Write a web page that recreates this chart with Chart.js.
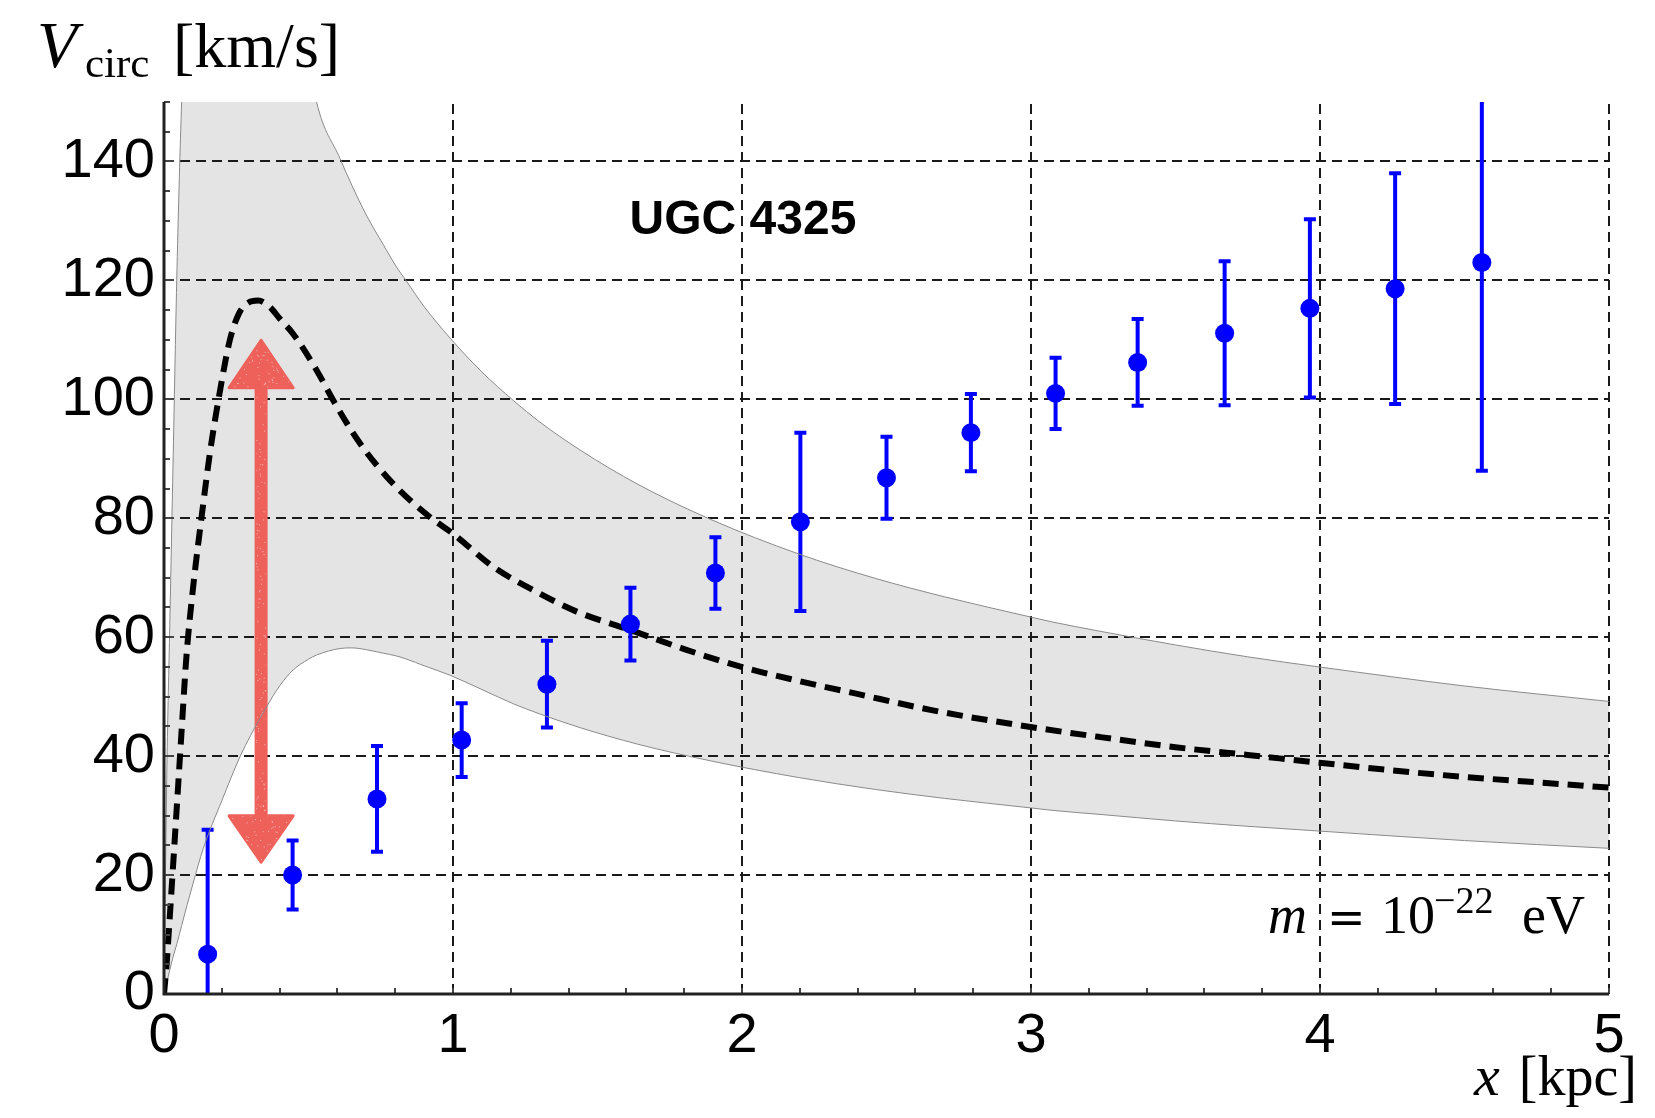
<!DOCTYPE html>
<html>
<head>
<meta charset="utf-8">
<script src="https://cdn.jsdelivr.net/npm/chart.js@4"></script>
<style>
html,body{margin:0;padding:0;background:#fff;}
canvas{display:block;}
</style>
</head>
<body>
<canvas id="c" width="1655" height="1118"></canvas>
<script>
// ---- data ----
const obsX   = [0.151, 0.445, 0.737, 1.030, 1.325, 1.614, 1.908, 2.202, 2.500, 2.792, 3.085, 3.369, 3.670, 3.965, 4.260, 4.560];
const obsV   = [6.7, 20.0, 32.8, 42.7, 52.1, 62.2, 70.8, 79.4, 86.8, 94.4, 101.0, 106.2, 111.1, 115.3, 118.6, 123.0];
const obsErr = [20.9, 5.8, 8.9, 6.2, 7.3, 6.1, 6.0, 15.0, 6.9, 6.5, 6.0, 7.3, 12.1, 15.0, 19.4, 35.0];

const modelX = [0, 0.009, 0.02, 0.032, 0.045, 0.058, 0.078, 0.101, 0.13, 0.159, 0.194, 0.228, 0.26, 0.29, 0.326, 0.367, 0.4, 0.447, 0.528, 0.586, 0.678, 0.793, 0.92, 1.0, 1.14, 1.278, 1.428, 1.614, 1.8, 1.998, 2.2, 2.395, 2.66, 2.998, 3.24, 3.5, 3.75, 3.997, 4.25, 4.5, 4.75, 5.0];
const modelV = [0, 5, 13, 22, 32, 42, 57, 68.5, 80.2, 91, 101.5, 110, 114.5, 116.2, 116.6, 115.5, 113.6, 111, 104.9, 99.8, 92.6, 85.8, 80.2, 77.4, 71.8, 67.9, 64.3, 61.2, 58.0, 55.0, 52.6, 50.5, 47.7, 44.9, 43.2, 41.5, 40.2, 38.9, 37.6, 36.5, 35.6, 34.7];

const bandX     = [0, 0.005, 0.01, 0.02, 0.03, 0.045, 0.061, 0.1, 0.136, 0.2, 0.263, 0.3, 0.355, 0.4, 0.447, 0.5, 0.528, 0.609, 0.65, 0.7, 0.759, 0.8, 0.84, 0.9, 0.99, 1.1, 1.209, 1.3, 1.439, 1.64, 1.892, 2.196, 2.461, 2.7, 2.998, 3.07, 3.239, 3.5, 3.75, 3.997, 4.5, 5.0];
const bandUpper = [0, 20, 38, 62, 86, 122, 150, 195, 215, 228, 225, 215, 200, 186, 172, 158, 150, 140.5, 136, 131, 126, 122.6, 119.8, 115.6, 110.3, 104.6, 99.8, 96.2, 91.5, 85.7, 79.8, 74.0, 69.9, 66.8, 63.4, 62.6, 61.0, 58.7, 56.7, 55.0, 51.8, 49.2];
const bandLower = [0, 1, 2, 4, 6, 8.5, 11.5, 18.5, 24.5, 32.5, 39.9, 43.5, 48.3, 51.8, 54.5, 56.3, 57.0, 58.1, 58.2, 57.9, 57.3, 56.9, 56.3, 55.2, 53.6, 51.2, 48.8, 47.1, 44.8, 42.0, 39.2, 36.4, 34.4, 32.9, 31.3, 30.9, 30.2, 29.1, 28.2, 27.4, 25.8, 24.5];

// arrow annotation (data units)
const arrowX = [0.336];
const arrowHeadHalfWidth = [0.104];
const arrowTopV = [109.6, 102.1];    // tip, head base
const arrowBottomV = [22.5, 29.8];   // tip, head base

const xMajorTicks = [0, 1, 2, 3, 4, 5];
const yMajorTicks = [0, 20, 40, 60, 80, 100, 120, 140];
const xMinorStep = 0.2;
const yMinorStep = 5;
const xRange = [0, 5];
const yRange = [0, 150];

const toXY = (xa, ya) => xa.map((x, i) => ({x: x, y: ya[i]}));

const BLUE = '#0000ff';
const GRID = '#1a1a1a';
const RED = '#ee615b';

// deterministic speckle pattern for the crayon-like arrow
function speckle(ctx, x0, y0, w, h) {
  let s = 12345;
  const rnd = () => { s = (s * 1103515245 + 12345) & 0x7fffffff; return s / 0x7fffffff; };
  ctx.fillStyle = 'rgba(255,255,255,0.55)';
  const n = Math.floor(w * h / 40);
  for (let i = 0; i < n; i++) {
    ctx.fillRect(x0 + rnd() * w, y0 + rnd() * h, 1, 1);
  }
}

const layerPlugin = {
  id: 'layers',
  beforeDatasetsDraw(chart) {
    const {ctx, chartArea: a, scales: {x, y}} = chart;
    ctx.save();
    // dashed grid
    ctx.strokeStyle = GRID;
    ctx.lineWidth = 2;
    ctx.setLineDash([10, 6]);
    yMajorTicks.forEach(v => {
      if (v === yRange[0]) return;
      const py = Math.round(y.getPixelForValue(v));
      ctx.beginPath(); ctx.moveTo(a.left, py); ctx.lineTo(a.right, py); ctx.stroke();
    });
    xMajorTicks.forEach(v => {
      if (v === xRange[0]) return;
      const px = Math.round(x.getPixelForValue(v));
      ctx.beginPath(); ctx.moveTo(px, a.bottom); ctx.lineTo(px, a.top); ctx.stroke();
    });
    ctx.setLineDash([]);

    // red double arrow
    const ax = x.getPixelForValue(arrowX[0]);
    const hw = x.getPixelForValue(arrowX[0] + arrowHeadHalfWidth[0]) - ax;
    const yTopTip = y.getPixelForValue(arrowTopV[0]);
    const yTopBase = y.getPixelForValue(arrowTopV[1]);
    const yBotTip = y.getPixelForValue(arrowBottomV[0]);
    const yBotBase = y.getPixelForValue(arrowBottomV[1]);
    ctx.save();
    ctx.beginPath();
    ctx.rect(ax - 5, yTopBase - 2, 10, yBotBase - yTopBase + 4);
    ctx.moveTo(ax, yTopTip - 2); ctx.lineTo(ax + hw + 2, yTopBase + 1); ctx.lineTo(ax - hw - 2, yTopBase + 1); ctx.closePath();
    ctx.moveTo(ax, yBotTip + 2); ctx.lineTo(ax + hw + 2, yBotBase - 1); ctx.lineTo(ax - hw - 2, yBotBase - 1); ctx.closePath();
    ctx.fillStyle = RED;
    ctx.strokeStyle = RED;
    ctx.lineJoin = 'round';
    ctx.lineWidth = 3;
    ctx.fill(); ctx.stroke();
    ctx.clip();
    speckle(ctx, ax - hw - 4, yTopTip - 4, 2 * hw + 8, yBotTip - yTopTip + 8);
    ctx.restore();

    // error bars
    ctx.beginPath(); ctx.rect(a.left, a.top, a.right - a.left, a.bottom - a.top); ctx.clip();
    ctx.strokeStyle = BLUE;
    ctx.lineWidth = 4;
    obsX.forEach((xv, i) => {
      const px = x.getPixelForValue(xv);
      const pt = y.getPixelForValue(obsV[i] + obsErr[i]);
      const pb = y.getPixelForValue(obsV[i] - obsErr[i]);
      ctx.beginPath(); ctx.moveTo(px, pt); ctx.lineTo(px, pb); ctx.stroke();
      ctx.beginPath();
      ctx.moveTo(px - 6, pt); ctx.lineTo(px + 6, pt);
      ctx.moveTo(px - 6, pb); ctx.lineTo(px + 6, pb);
      ctx.stroke();
    });
    ctx.restore();
  },
  afterDatasetsDraw(chart) {
    const {ctx, chartArea: a, scales: {x, y}} = chart;
    ctx.save();
    // minor / major tick marks (inside)
    ctx.strokeStyle = '#444';
    ctx.lineWidth = 2;
    for (let v = yRange[0]; v <= yRange[1] + 1e-9; v += yMinorStep) {
      const py = Math.round(y.getPixelForValue(v));
      const len = (v % 20 === 0) ? 10 : 6;
      ctx.beginPath(); ctx.moveTo(a.left, py); ctx.lineTo(a.left + len, py); ctx.stroke();
    }
    for (let v = xRange[0]; v <= xRange[1] + 1e-9; v += xMinorStep) {
      const px = Math.round(x.getPixelForValue(v));
      ctx.beginPath(); ctx.moveTo(px, a.bottom); ctx.lineTo(px, a.bottom - 6); ctx.stroke();
    }
    // axes
    ctx.strokeStyle = '#222';
    ctx.lineWidth = 3;
    ctx.beginPath();
    ctx.moveTo(a.left, a.top); ctx.lineTo(a.left, a.bottom); ctx.lineTo(a.right, a.bottom);
    ctx.stroke();

    // texts
    ctx.fillStyle = '#000';
    ctx.textBaseline = 'alphabetic';
    ctx.textAlign = 'left';
    ctx.font = 'italic 66px "Liberation Serif"';
    ctx.fillText('V', 37, 67);
    ctx.font = '43px "Liberation Serif"';
    ctx.fillText('circ', 85, 77);
    ctx.font = '64px "Liberation Serif"';
    ctx.fillText('[km/s]', 173, 67);

    ctx.font = 'italic 58px "Liberation Serif"';
    ctx.fillText('x', 1474, 1095);
    ctx.font = '56px "Liberation Serif"';
    ctx.textAlign = 'right';
    ctx.fillText('[kpc]', 1637, 1095);
    ctx.textAlign = 'left';

    ctx.font = 'italic 54px "Liberation Serif"';
    ctx.fillText('m', 1268, 933);
    ctx.font = '46px "DejaVu Serif"';
    ctx.fillText('=', 1327, 933);
    ctx.font = '54px "Liberation Serif"';
    ctx.fillText('10', 1381, 933);
    ctx.font = '38px "Liberation Serif"';
    ctx.fillText('\u221222', 1434, 913);
    ctx.font = '54px "Liberation Serif"';
    ctx.fillText('eV', 1522, 933);

    ctx.font = 'bold 48px "Liberation Sans"';
    ctx.textAlign = 'center';
    ctx.textBaseline = 'middle';
    ctx.fillText('UGC 4325', 743, 221);
    ctx.restore();
  }
};

new Chart(document.getElementById('c'), {
  data: {
    datasets: [
      {
        type: 'scatter',
        data: toXY(obsX, obsV),
        pointRadius: 9.5,
        pointHoverRadius: 9.5,
        backgroundColor: BLUE,
        borderWidth: 0,
        order: 0
      },
      {
        type: 'line',
        data: toXY(modelX, modelV),
        borderColor: '#000',
        borderWidth: 6,
        borderDash: [16, 9],
        pointRadius: 0,
        fill: false,
        cubicInterpolationMode: 'monotone',
        order: 1
      },
      {
        type: 'line',
        data: toXY(bandX, bandUpper),
        borderColor: '#8a8a8a',
        borderWidth: 1,
        pointRadius: 0,
        fill: '+1',
        backgroundColor: '#e4e4e4',
        cubicInterpolationMode: 'monotone',
        order: 2
      },
      {
        type: 'line',
        data: toXY(bandX, bandLower),
        borderColor: '#8a8a8a',
        borderWidth: 1,
        pointRadius: 0,
        fill: false,
        cubicInterpolationMode: 'monotone',
        order: 3
      }
    ]
  },
  options: {
    responsive: false,
    devicePixelRatio: 1,
    animation: false,
    events: [],
    layout: {padding: {top: 102, right: 46, left: 0, bottom: 0}},
    plugins: {
      legend: {display: false},
      tooltip: {enabled: false},
      filler: {drawTime: 'beforeDatasetsDraw'}
    },
    scales: {
      x: {
        type: 'linear',
        min: xRange[0], max: xRange[1],
        afterBuildTicks: s => { s.ticks = xMajorTicks.map(v => ({value: v})); },
        ticks: {
          font: {family: '"Liberation Sans"', size: 56},
          color: '#000',
          padding: 9,
          maxRotation: 0,
          autoSkip: false,
          callback: v => String(v)
        },
        grid: {display: false, drawTicks: false},
        border: {display: false},
        afterFit: s => { s.height = 124; }
      },
      y: {
        type: 'linear',
        min: yRange[0], max: yRange[1],
        afterBuildTicks: s => { s.ticks = yMajorTicks.map(v => ({value: v})); },
        ticks: {
          font: {family: '"Liberation Sans"', size: 56},
          color: '#000',
          padding: 9,
          autoSkip: false,
          callback: v => String(v)
        },
        grid: {display: false, drawTicks: false},
        border: {display: false},
        afterFit: s => { s.width = 164; }
      }
    }
  },
  plugins: [layerPlugin]
});
</script>
</body>
</html>
